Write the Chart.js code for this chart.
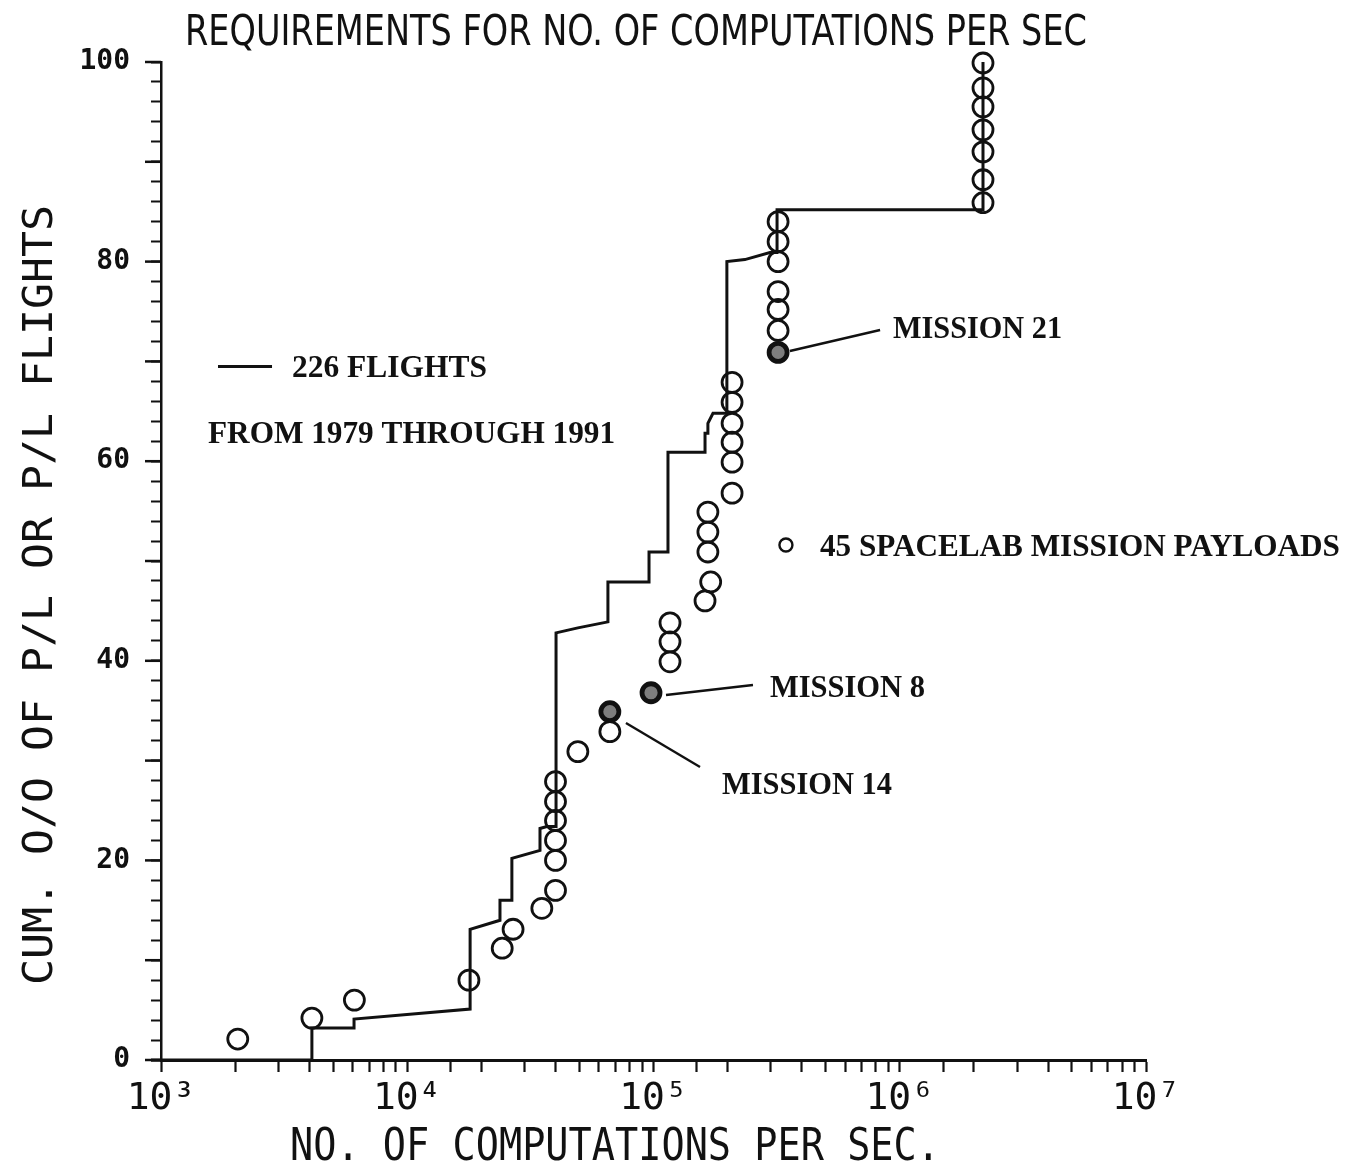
<!DOCTYPE html>
<html><head><meta charset="utf-8">
<script src="https://cdn.jsdelivr.net/npm/chart.js@4.4.1/dist/chart.umd.min.js"></script>
<style>html,body{margin:0;padding:0;background:#fff}#wrap{width:1347px;height:1171px;position:relative}</style>
</head><body><div id="wrap"><canvas id="c"></canvas></div>
<script>
// ---- data ----
const flightX = [1000, 4100, 4100, 6080, 6080, 18000, 18000, 23800, 23800, 26600, 26600, 34600, 34600, 36900, 40200, 40200, 49300, 65300, 65300, 95900, 95900, 114500, 114500, 161900, 161900, 166300, 166300, 174400, 198600, 198600, 235000, 297000, 317500, 317500, 2178000, 2178000];
const flightY = [0, 0, 3.2, 3.2, 4.1, 5.1, 13.1, 14.0, 16.0, 16.0, 20.2, 21.0, 23.2, 23.4, 23.4, 42.8, 43.3, 43.9, 47.9, 47.9, 50.9, 50.9, 60.9, 60.9, 62.8, 62.8, 63.8, 64.8, 64.8, 80.0, 80.2, 80.9, 80.9, 85.2, 85.2, 100];
const payloadX = [2050, 4100, 6100, 17800, 24300, 26900, 35200,
  40000, 40000, 40000, 40000, 40000, 40000,
  49300, 66500, 66500, 97700,
  116700, 116700, 116700,
  166300, 166300, 166300, 170700, 161900,
  208500, 208500, 208500, 208500, 208500, 208500,
  320600, 320600, 320600, 320600, 320600, 320600, 320600,
  2178000, 2178000, 2178000, 2178000, 2178000, 2178000, 2178000];
const payloadY = [2.1, 4.2, 6.0, 8.0, 11.2, 13.1, 15.2,
  17.0, 20.0, 22.0, 24.0, 25.9, 27.9,
  30.9, 32.9, 34.9, 36.8,
  39.9, 41.9, 43.8,
  50.9, 52.9, 54.9, 47.9, 46.0,
  56.8, 59.9, 61.9, 63.8, 65.9, 67.9,
  70.9, 73.1, 75.2, 77.0, 80.0, 82.0, 84.0,
  85.9, 88.2, 91.0, 93.2, 95.5, 97.4, 99.9];
const missionNames = ['MISSION 21', 'MISSION 8', 'MISSION 14'];
const missionX = [320600, 97700, 66500];
const missionY = [70.9, 36.8, 34.9];
const xTickValues = [1e3, 1e4, 1e5, 1e6, 1e7];
const xTickLabels = ['10\u00B3', '10\u2074', '10\u2075', '10\u2076', '10\u2077'];
const yTickValues = [0, 20, 40, 60, 80, 100];
const yTickLabels = ['0', '20', '40', '60', '80', '100'];
const titleText = 'REQUIREMENTS FOR NO. OF COMPUTATIONS PER SEC';
const xTitle = 'NO. OF COMPUTATIONS PER SEC.';
const yTitle = 'CUM. O/O OF P/L OR P/L FLIGHTS';
const flightLabel = '226 FLIGHTS';
const periodLabel = 'FROM 1979 THROUGH 1991';
const payloadLabel = '45 SPACELAB MISSION PAYLOADS';

// ---- drawing helpers ----
function fitText(ctx, text, x, y, w, font, rot) {
  ctx.save();
  ctx.font = font;
  const m = ctx.measureText(text).width;
  ctx.translate(x, y);
  if (rot) ctx.rotate(rot);
  ctx.scale(w / m, 1);
  ctx.textAlign = 'left';
  ctx.textBaseline = 'alphabetic';
  ctx.fillText(text, 0, 0);
  ctx.restore();
}
const ANN_FONT = 'bold 32px "Liberation Serif"';
const INK = '#111';

const annot = {
  id: 'annot',
  afterDraw(chart) {
    const ctx = chart.ctx, xs = chart.scales.x, ys = chart.scales.y, ca = chart.chartArea;
    const X = v => xs.getPixelForValue(v), Y = v => ys.getPixelForValue(v);
    ctx.save();
    ctx.fillStyle = INK; ctx.strokeStyle = INK; ctx.lineCap = 'butt';
    // longer y ticks every 10
    ctx.lineWidth = 2.5;
    for (let v = 0; v <= 100; v += 10) {
      const y = Y(v);
      ctx.beginPath(); ctx.moveTo(ca.left - 16, y); ctx.lineTo(ca.left, y); ctx.stroke();
    }
    // x axis stub left of origin
    ctx.lineWidth = 3;
    ctx.beginPath(); ctx.moveTo(ca.left - 10, ca.bottom); ctx.lineTo(ca.left, ca.bottom); ctx.stroke();

    // titles
    fitText(ctx, titleText, 185, 45, 902, '42px "DejaVu Sans"');
    fitText(ctx, xTitle, 290, 1160, 650, '44px "DejaVu Sans Mono"');
    fitText(ctx, yTitle, 52, 985, 780, '41px "DejaVu Sans Mono"', -Math.PI / 2);

    // legend: line
    ctx.lineWidth = 3;
    ctx.beginPath(); ctx.moveTo(X(1704), Y(69.5)); ctx.lineTo(X(2824), Y(69.5)); ctx.stroke();
    fitText(ctx, flightLabel, X(3404), Y(68.44), 195, ANN_FONT);
    fitText(ctx, periodLabel, X(1552), Y(61.82), 407, ANN_FONT);
    // legend: circle
    ctx.lineWidth = 2.4;
    ctx.beginPath(); ctx.arc(X(345000), Y(51.6), 6.5, 0, Math.PI * 2); ctx.stroke();
    fitText(ctx, payloadLabel, X(474000), Y(50.5), 520, ANN_FONT);

    // mission labels + leaders
    const labs = [
      {tx: 939000, ty: 72.34, w: 169, l: [358000, 71.04, 832000, 73.15]},
      {tx: 297000, ty: 36.37, w: 155, l: [112400, 36.57, 253500, 37.58]},
      {tx: 189700, ty: 26.65, w: 170, l: [77300, 33.77, 154500, 29.36]}
    ];
    labs.forEach((o, i) => {
      ctx.lineWidth = 2.4;
      ctx.beginPath(); ctx.moveTo(X(o.l[0]), Y(o.l[1])); ctx.lineTo(X(o.l[2]), Y(o.l[3])); ctx.stroke();
      fitText(ctx, missionNames[i], X(o.tx), Y(o.ty), o.w, ANN_FONT);
    });
    ctx.restore();
  }
};

new Chart(document.getElementById('c'), {
  type: 'scatter',
  data: {
    datasets: [
      {
        label: flightLabel,
        data: flightX.map((x, i) => ({x, y: flightY[i]})),
        showLine: true, borderColor: INK, borderWidth: 3, pointRadius: 0,
        tension: 0, fill: false, clip: false, order: 2
      },
      {
        label: payloadLabel,
        data: payloadX.map((x, i) => ({x, y: payloadY[i]})),
        pointStyle: 'circle', pointRadius: 10, borderWidth: 2.8,
        borderColor: INK, backgroundColor: 'rgba(0,0,0,0)', clip: false, order: 1
      },
      {
        label: 'missions',
        data: missionX.map((x, i) => ({x, y: missionY[i]})),
        pointStyle: 'circle', pointRadius: 8, borderWidth: 2.8,
        borderColor: INK, backgroundColor: 'rgba(40,40,40,0.6)', clip: false, order: 0
      }
    ]
  },
  options: {
    responsive: true, maintainAspectRatio: false, animation: false, events: [],
    layout: {padding: {left: 0, top: 62, right: 201, bottom: 0}},
    plugins: {legend: {display: false}, title: {display: false}, tooltip: {enabled: false}},
    scales: {
      x: {
        type: 'logarithmic', min: 1e3, max: 1e7, bounds: 'ticks',
        afterFit: s => { s.height = 111; },
        border: {display: true, color: INK, width: 3},
        grid: {display: true, drawOnChartArea: false, drawTicks: true, tickLength: 12, tickColor: INK, tickWidth: 2.2, color: INK},
        ticks: {
          autoSkip: false, maxRotation: 0, minRotation: 0, padding: 4, color: INK,
          font: {family: '"DejaVu Sans Mono"', size: 38},
          callback: v => {
            const k = xTickValues.findIndex(t => Math.abs(t - v) / t < 1e-6);
            return k >= 0 ? xTickLabels[k] : '';
          }
        }
      },
      y: {
        type: 'linear', min: 0, max: 100,
        afterFit: s => { s.width = 161; },
        border: {display: true, color: INK, width: 2.5},
        grid: {display: true, drawOnChartArea: false, drawTicks: true, tickLength: 10, tickColor: INK, tickWidth: 2, color: INK},
        ticks: {
          stepSize: 2, autoSkip: false, padding: 21, color: INK,
          font: {family: '"DejaVu Sans Mono"', size: 28, weight: 'bold'},
          callback: v => {
            const k = yTickValues.indexOf(Math.round(v));
            return (k >= 0 && Math.abs(v - Math.round(v)) < 1e-6) ? yTickLabels[k] : '';
          }
        }
      }
    }
  },
  plugins: [annot]
});
</script></body></html>
